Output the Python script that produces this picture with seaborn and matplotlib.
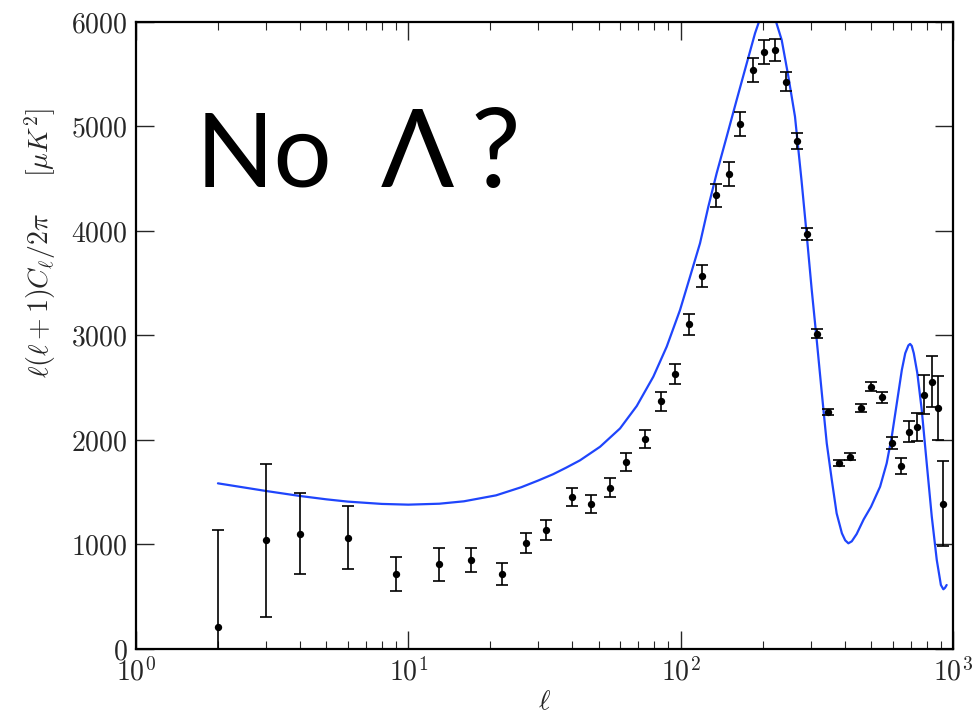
import numpy as np
import pandas as pd
import matplotlib
matplotlib.use("Agg")
import matplotlib.pyplot as plt
from matplotlib.ticker import LogLocator, FixedLocator, NullFormatter
import seaborn as sns

# Measured band powers (multipole, D_ell, 1-sigma error)
ell_data = [2, 3, 4, 6, 9, 13, 17, 22, 27, 32, 40, 47, 55, 63, 74, 85, 95, 107, 120,
            135, 150, 165, 184, 202, 222, 243, 267, 292, 317, 349, 381, 418, 459, 502,
            549, 597, 645, 690, 736, 783, 836, 881, 922]
dl_data = [210, 1040, 1104, 1065, 718, 810, 849, 715, 1014, 1136, 1455, 1384, 1544, 1786,
           2010, 2370, 2632, 3107, 3572, 4341, 4548, 5024, 5541, 5713, 5735, 5429, 4861,
           3968, 3017, 2265, 1780, 1840, 2310, 2507, 2408, 1974, 1748, 2080, 2124, 2434,
           2558, 2303, 1390]
dl_err = [930, 730, 390, 300, 165, 160, 115, 107, 95, 96, 83, 85, 89, 86, 85, 92, 96, 100,
          104, 113, 116, 115, 113, 112, 104, 91, 77, 59, 45, 29, 27, 32, 38, 43, 51, 59, 75,
          102, 136, 185, 244, 308, 407]

# Model spectrum without a cosmological constant
ell_model = [2, 3, 4, 5, 6, 8, 10, 13, 16, 21, 26, 30, 34, 38, 42.7, 50.6, 59.9, 69,
             79.4, 88.9, 99.5, 108.3, 117.8, 126.4, 135.6, 147.6, 160.6, 174.9, 187.6,
             194, 201, 208, 216, 224, 235, 248.7, 263, 278, 290, 303, 316, 330, 344, 359,
             374, 391, 402, 413, 425, 443, 470, 500, 540, 571, 596, 622, 649, 668, 686,
             696, 706, 718, 740, 768, 801, 836, 872, 903, 922, 935, 948]
dl_model = [1585, 1512, 1464, 1432, 1410, 1388, 1381, 1390, 1413, 1470, 1548, 1612, 1672,
            1735, 1805, 1935, 2110, 2325, 2606, 2893, 3244, 3563, 3882, 4233, 4552, 4902,
            5254, 5605, 5892, 6003, 6100, 6150, 6120, 6003, 5828, 5477, 5094, 4480, 3978,
            3435, 2957, 2447, 1968, 1617, 1298, 1107, 1040, 1011, 1030, 1100, 1240, 1360,
            1553, 1777, 2032, 2351, 2670, 2830, 2905, 2919, 2900, 2830, 2638, 2287, 1777,
            1266, 852, 612, 571, 585, 612]

data = pd.DataFrame({"ell": ell_data, "dl": dl_data, "err": dl_err})
model = pd.DataFrame({"ell": ell_model, "dl": dl_model})

sns.set_style("ticks")
plt.rcParams.update({
    "font.family": "serif",
    "font.serif": ["cmr10", "DejaVu Serif"],
    "mathtext.fontset": "cm",
    "axes.formatter.use_mathtext": True,
    "axes.unicode_minus": False,
    "xtick.direction": "in",
    "ytick.direction": "in",
    "xtick.top": True,
    "ytick.right": True,
})

fig = plt.figure(figsize=(9.74, 7.23), dpi=100)
ax = fig.add_axes([0.1396, 0.1024, 0.8388, 0.8672])

sns.lineplot(data=model, x="ell", y="dl", ax=ax, color="#1f45fc", linewidth=1.6,
             sort=False, estimator=None)
ax.errorbar(data["ell"], data["dl"], yerr=data["err"], fmt="none", ecolor="black",
            elinewidth=1.2, capsize=4.5, capthick=1.2)
sns.scatterplot(data=data, x="ell", y="dl", ax=ax, color="black", s=28,
                edgecolor="black", linewidth=0, zorder=3)

ax.set_xscale("log")
ax.set_xlim(1, 1000)
ax.set_ylim(0, 6000)
ax.yaxis.set_major_locator(FixedLocator([0, 1000, 2000, 3000, 4000, 5000, 6000]))
ax.xaxis.set_major_locator(LogLocator(base=10, numticks=10))
ax.xaxis.set_minor_locator(LogLocator(base=10, subs=np.arange(2, 10), numticks=20))
ax.xaxis.set_minor_formatter(NullFormatter())

ax.tick_params(axis="both", which="major", length=13, width=1.0, labelsize=20,
               direction="in", top=True, right=True, pad=6)
ax.tick_params(axis="both", which="minor", length=6, width=0.8, direction="in",
               top=True, right=True)
for side in ax.spines.values():
    side.set_linewidth(1.6)
    side.set_color("black")

ax.set_xlabel(r"$\ell$", fontsize=20, labelpad=2)
ax.set_ylabel(r"$\ell(\ell+1)C_\ell/2\pi\quad\;\;[\mu K^2]$", fontsize=20)
ax.yaxis.set_label_coords(-0.095, 0.647)

# Headline question, drawn glyph by glyph
title_font = ["Lato", "DejaVu Sans"]
for s, xpos, size in [("No", 0.0734, 74), ("\u039b", 0.300, 78), ("?", 0.409, 80)]:
    ax.text(xpos, 0.737, s, transform=ax.transAxes, fontsize=size,
            family=title_font, color="black", ha="left", va="baseline")

fig.savefig("out.png", dpi=100)
